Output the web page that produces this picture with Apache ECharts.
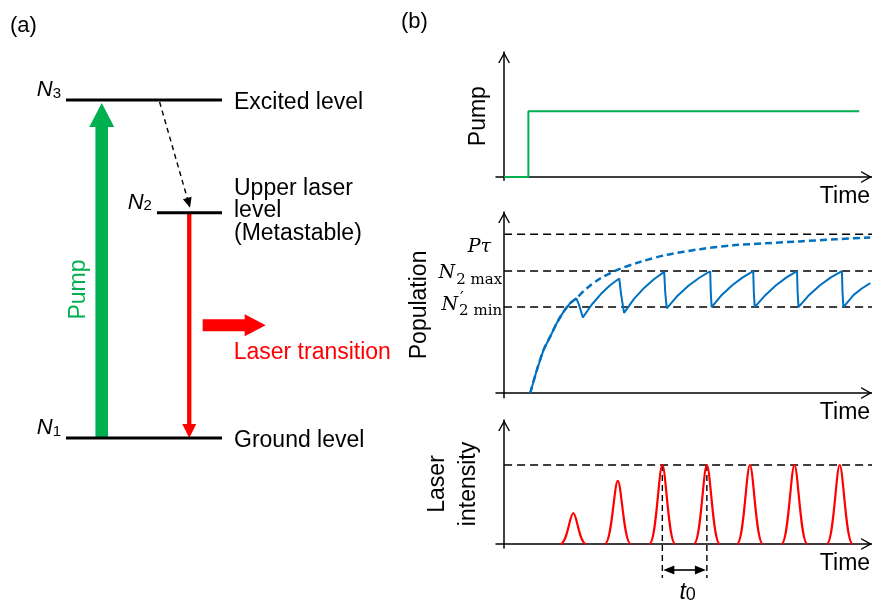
<!DOCTYPE html>
<html>
<head>
<meta charset="utf-8">
<title>Three-level laser: energy levels and relaxation oscillations</title>
<script src="https://cdn.jsdelivr.net/npm/echarts@6.0.0/dist/echarts.min.js"></script>
<style>
  html, body { margin: 0; padding: 0; background: #fff; }
  #chart { width: 872px; height: 604px; }
</style>
</head>
<body>
<div id="chart"></div>
<script>
// ---------- data ----------
// (a) energy levels of the three-level scheme (arbitrary energy units)
const levelNames  = ['Ground level', 'Upper laser\nlevel\n(Metastable)', 'Excited level'];
const levelIndex  = ['1', '2', '3'];
const levelEnergy = [0, 2, 3];

// (b) pump switched on as a step
const pumpTime  = [0, 6.6, 6.6, 96.5];
const pumpLevel = [0, 0, 1, 1];

// upper-level population while lasing (saw-tooth relaxation)
const popTime  = [7.1, 8.9, 10.7, 12.5, 14.3, 16.1, 17.9, 19.6,
                  20.3, 21.4, 23.9, 26.35, 28.8, 31.3,
                  31.8, 32.6, 35.3, 38.05, 40.8, 43.5,
                  43.8, 44.2, 47.15, 50.1, 53.05, 56.0,
                  56.15, 56.4, 59.15, 62.0, 64.85, 67.7,
                  67.85, 68.1, 71.05, 73.9, 76.75, 79.6,
                  79.75, 80.0, 82.9, 85.85, 88.8, 91.8,
                  91.95, 92.2, 95.0, 97.3, 99.5];
const popValue = [0, 0.145, 0.27, 0.354, 0.44, 0.51, 0.565, 0.596,
                  0.56, 0.476, 0.559, 0.625, 0.679, 0.721,
                  0.62, 0.505, 0.593, 0.662, 0.718, 0.763,
                  0.63, 0.533, 0.613, 0.676, 0.726, 0.767,
                  0.64, 0.541, 0.618, 0.679, 0.728, 0.767,
                  0.64, 0.541, 0.618, 0.679, 0.728, 0.767,
                  0.64, 0.541, 0.618, 0.679, 0.728, 0.767,
                  0.64, 0.541, 0.618, 0.66, 0.692];

// population without lasing, approaching P·tau
const trendTime  = [7.1, 8.9, 10.7, 12.5, 14.3, 16.1, 17.9, 19.6, 22.5, 26.1, 30.6,
                    37.0, 44.3, 53.3, 62.2, 71.0, 80.4, 90.0, 99.5];
const trendValue = [0, 0.145, 0.27, 0.354, 0.44, 0.51, 0.565, 0.596, 0.66, 0.721, 0.774,
                    0.826, 0.871, 0.906, 0.93, 0.943, 0.955, 0.968, 0.98];

// reference levels of the population plot; labels as [symbol, prime, subscript]
const popRefValue = [1.0, 0.768, 0.541];
const popRefLabel = [['Pτ', '', ''], ['N', '', '2 max'], ['N', '′', '2 min']];

// laser output pulses
const pulseTime  = [18.8, 30.9, 43.0, 55.1, 66.8, 78.9, 91.2];
const pulsePeak  = [0.39, 0.80, 1.0, 1.0, 1.0, 1.0, 1.0];
const pulseRef   = 1.0;
const periodPair = [2, 3];   // pulses bracketed by the t0 marker

// ---------- styling ----------
const GREEN = '#00B050', BLUE = '#0070C0', RED = '#FF0000';
const SANS  = '"Liberation Sans", Arial, sans-serif';
const SERIF = '"DejaVu Serif", "Liberation Serif", serif';
const zip = (xs, ys) => xs.map((x, i) => [x, ys[i]]);

// horizontal placement inside the level diagram (diagram x units 0..10)
const DIAG = {
  span: [[0, 10], [5.83, 10], [0, 10]],
  pumpX: 2.29,
  decayX: [6.0, 7.95],
  laserX: 7.9,
  emitX: [8.76, 12.8],
  emitY: 1.0
};

// math labels of the population plot: [right edge dx from axis, baseline dy from line]
const POP_LABEL_POS = [[-13, 19], [-2, 9], [-2, 4.5]];
const MATH_BASE = 19, MATH_SUB = 15, MATH_MARK = 17;
const measureCtx = document.createElement('canvas').getContext('2d');
function textWidth(str, font) { measureCtx.font = font; return measureCtx.measureText(str).width; }

// ---------- render helpers ----------
function renderLevel(params, api) {
  const i = params.dataIndex;
  const e = api.value(1);
  const a = api.coord([DIAG.span[i][0], e]);
  const b = api.coord([DIAG.span[i][1], e]);
  return {
    type: 'group',
    children: [
      { type: 'line', shape: { x1: a[0], y1: a[1], x2: b[0], y2: b[1] },
        style: { stroke: '#000', lineWidth: 3 } },
      { type: 'text', x: b[0] + 12, y: b[1] + (i === 1 ? -2 : 2.5),
        style: { text: levelNames[i], fill: '#000', fontFamily: SANS, fontSize: 23,
                 lineHeight: 22.5, align: 'left', verticalAlign: 'middle' } },
      { type: 'text', x: a[0] - 5, y: a[1] - 10,
        style: { text: '{n|N}{s|' + levelIndex[i] + '}', fill: '#000', align: 'right', verticalAlign: 'middle',
                 rich: {
                   n: { fontFamily: SANS, fontStyle: 'italic', fontSize: 22, lineHeight: 22 },
                   s: { fontFamily: SANS, fontSize: 15, lineHeight: 12, verticalAlign: 'bottom' }
                 } } }
    ]
  };
}

function renderPump(params, api) {
  const b = api.coord([DIAG.pumpX, api.value(0)]);
  const t = api.coord([DIAG.pumpX, api.value(1)]);
  const x = b[0], yb = b[1], yt = t[1] + 3;
  const sw = 6.3, hw = 12.5, hl = 24;
  return {
    type: 'group',
    children: [
      { type: 'polygon',
        shape: { points: [[x - sw, yb], [x - sw, yt + hl], [x - hw, yt + hl], [x, yt],
                          [x + hw, yt + hl], [x + sw, yt + hl], [x + sw, yb]] },
        style: { fill: GREEN } },
      { type: 'text', x: x - 23, y: (yb + yt) / 2 + 19, rotation: Math.PI / 2,
        style: { text: 'Pump', fill: GREEN, fontFamily: SANS, fontSize: 23,
                 align: 'center', verticalAlign: 'middle' } }
    ]
  };
}

function arrowHead(tip, from, len, half, color) {
  const dx = tip[0] - from[0], dy = tip[1] - from[1];
  const l = Math.hypot(dx, dy), ux = dx / l, uy = dy / l;
  const bx = tip[0] - ux * len, by = tip[1] - uy * len;
  return { type: 'polygon',
    shape: { points: [[tip[0], tip[1]], [bx - uy * half, by + ux * half], [bx + uy * half, by - ux * half]] },
    style: { fill: color } };
}

function renderDecay(params, api) {
  const s = api.coord([DIAG.decayX[0], api.value(0)]);
  const e = api.coord([DIAG.decayX[1], api.value(1)]);
  const start = [s[0], s[1] + 2], tip = [e[0], e[1] - 5];
  const dx = tip[0] - start[0], dy = tip[1] - start[1], l = Math.hypot(dx, dy);
  const end = [tip[0] - dx / l * 9, tip[1] - dy / l * 9];
  return {
    type: 'group',
    children: [
      { type: 'line', shape: { x1: start[0], y1: start[1], x2: end[0], y2: end[1] },
        style: { stroke: '#000', lineWidth: 1.4, lineDash: [5, 4] } },
      arrowHead(tip, start, 10, 4.5, '#000')
    ]
  };
}

function renderLaser(params, api) {
  const top = api.coord([DIAG.laserX, api.value(0)]);
  const bot = api.coord([DIAG.laserX, api.value(1)]);
  const x = top[0];
  const e0 = api.coord([DIAG.emitX[0], DIAG.emitY]);
  const e1 = api.coord([DIAG.emitX[1], DIAG.emitY]);
  const yc = e0[1], sh = 6, hh = 11, hl = 21;
  return {
    type: 'group',
    children: [
      { type: 'line', shape: { x1: x, y1: top[1] + 1, x2: x, y2: bot[1] - 12 },
        style: { stroke: RED, lineWidth: 4.3 } },
      { type: 'polygon',
        shape: { points: [[x - 7, bot[1] - 14], [x + 7, bot[1] - 14], [x, bot[1]]] },
        style: { fill: RED } },
      { type: 'polygon',
        shape: { points: [[e0[0], yc - sh], [e1[0] - hl, yc - sh], [e1[0] - hl, yc - hh], [e1[0], yc],
                          [e1[0] - hl, yc + hh], [e1[0] - hl, yc + sh], [e0[0], yc + sh]] },
        style: { fill: RED } },
      { type: 'text', x: e0[0] + 31, y: yc + 27,
        style: { text: 'Laser transition', fill: RED, fontFamily: SANS, fontSize: 23,
                 align: 'left', verticalAlign: 'middle' } }
    ]
  };
}

function renderPopRef(params, api) {
  const i = params.dataIndex;
  const v = api.value(1);
  const a = api.coord([0, v]), b = api.coord([100, v]);
  const [base, mark, sub] = popRefLabel[i];
  const pos = POP_LABEL_POS[i];
  const right = a[0] + pos[0], baseline = a[1] + pos[1];
  const ws = sub ? textWidth(sub, MATH_SUB + 'px "DejaVu Serif"') : 0;
  const wb = textWidth(base, 'italic ' + MATH_BASE + 'px "DejaVu Serif"');
  const gap = sub ? 1 : 0;
  const children = [
    { type: 'line', shape: { x1: a[0], y1: a[1], x2: b[0], y2: b[1] },
      style: { stroke: '#000', lineWidth: 1.5, lineDash: [8, 5] } },
    { type: 'text', x: right - ws - gap - wb, y: baseline - 0.35 * MATH_BASE,
      style: { text: base, fill: '#000', fontFamily: SERIF, fontStyle: 'italic', fontSize: MATH_BASE,
               align: 'left', verticalAlign: 'middle' } }
  ];
  if (sub) {
    children.push({ type: 'text', x: right - ws, y: baseline + 5 - 0.35 * MATH_SUB,
      style: { text: sub, fill: '#000', fontFamily: SERIF, fontSize: MATH_SUB,
               align: 'left', verticalAlign: 'middle' } });
  }
  if (mark) {
    children.push({ type: 'text', x: right - ws + 1, y: baseline - 7 - 0.35 * MATH_MARK,
      style: { text: mark, fill: '#000', fontFamily: SERIF, fontSize: MATH_MARK,
               align: 'left', verticalAlign: 'middle' } });
  }
  return { type: 'group', children };
}

function renderPulse(params, api) {
  const c = api.coord([api.value(0), api.value(1)]);
  const base = api.coord([api.value(0), 0])[1];
  const x = c[0], y = c[1], w = 13;
  const d = 'M' + (x - w) + ',' + base +
            ' C' + (x - 6) + ',' + base + ' ' + (x - 3.5) + ',' + y + ' ' + x + ',' + y +
            ' C' + (x + 3.5) + ',' + y + ' ' + (x + 6) + ',' + base + ' ' + (x + w) + ',' + base;
  return { type: 'path', shape: { pathData: d },
           style: { fill: 'none', stroke: RED, lineWidth: 2.2 } };
}

function renderPeriod(params, api) {
  const p1 = api.coord([api.value(0), api.value(1)]);
  const p2 = api.coord([api.value(2), api.value(1)]);
  const y0 = api.coord([api.value(0), 0])[1];
  const yEnd = y0 + 34, yArr = y0 + 26;
  const x1 = p1[0], x2 = p2[0];
  return {
    type: 'group',
    children: [
      { type: 'line', shape: { x1: x1, y1: p1[1], x2: x1, y2: yEnd },
        style: { stroke: '#000', lineWidth: 1.4, lineDash: [6, 4] } },
      { type: 'line', shape: { x1: x2, y1: p2[1], x2: x2, y2: yEnd },
        style: { stroke: '#000', lineWidth: 1.4, lineDash: [6, 4] } },
      { type: 'line', shape: { x1: x1 + 10, y1: yArr, x2: x2 - 10, y2: yArr },
        style: { stroke: '#000', lineWidth: 1.6 } },
      arrowHead([x1 + 1, yArr], [x2, yArr], 11, 4.5, '#000'),
      arrowHead([x2 - 1, yArr], [x1, yArr], 11, 4.5, '#000'),
      { type: 'text', x: (x1 + x2) / 2 + 3, y: y0 + 49,
        style: { text: '{t|t}{s|0}', fill: '#000', align: 'center', verticalAlign: 'middle',
                 rich: {
                   t: { fontFamily: SANS, fontStyle: 'italic', fontSize: 23, lineHeight: 22 },
                   s: { fontFamily: SANS, fontSize: 18, lineHeight: 14, verticalAlign: 'bottom' }
                 } } }
    ]
  };
}

// ---------- axes ----------
const CHEVRON = 'path://M0,11L6,0L12,11L10.5,11L6,2.8L1.5,11Z';
const axisLine = {
  show: true, onZero: true,
  symbol: ['none', CHEVRON], symbolSize: [12, 11], symbolOffset: [0, -5.5],
  lineStyle: { color: '#000', width: 1.5 }
};
const nameStyle = { color: '#000', fontFamily: SANS, fontSize: 23, lineHeight: 23 };
const hidden = { axisTick: { show: false }, axisLabel: { show: false }, splitLine: { show: false } };

function timeAxis(gridIndex) {
  return Object.assign({
    type: 'value', gridIndex, min: -2.2, max: 100, axisLine,
    name: 'Time', nameLocation: 'end', nameGap: -2,
    nameTextStyle: Object.assign({}, nameStyle, { align: 'right', verticalAlign: 'top', padding: [8, 0, 0, 0] })
  }, hidden);
}
function valueAxis(gridIndex, min, max, name, gap, extra) {
  return Object.assign({
    type: 'value', gridIndex, min, max, axisLine,
    name, nameLocation: 'middle', nameRotate: 90, nameGap: gap,
    nameTextStyle: Object.assign({}, nameStyle, extra || {})
  }, hidden);
}

const chart = echarts.init(document.getElementById('chart'), null, { renderer: 'canvas' });
chart.setOption({
  animation: false,
  backgroundColor: '#fff',
  textStyle: { fontFamily: SANS },
  graphic: [
    { type: 'text', x: 10, y: 26, style: { text: '(a)', fill: '#000', fontFamily: SANS, fontSize: 22, verticalAlign: 'middle' } },
    { type: 'text', x: 401, y: 22, style: { text: '(b)', fill: '#000', fontFamily: SANS, fontSize: 22, verticalAlign: 'middle' } }
  ],
  grid: [
    { left: 66,  top: 100, width: 156, height: 338,   outerBoundsMode: 'none' },   // level diagram
    { left: 496, top: 52,  width: 376.1, height: 128.3, outerBoundsMode: 'none' }, // pump
    { left: 496, top: 212, width: 376.1, height: 185.8, outerBoundsMode: 'none' }, // population
    { left: 496, top: 420, width: 376.1, height: 127.95, outerBoundsMode: 'none' } // laser intensity
  ],
  xAxis: [
    { type: 'value', gridIndex: 0, min: 0, max: 10, show: false },
    timeAxis(1), timeAxis(2), timeAxis(3)
  ],
  yAxis: [
    { type: 'value', gridIndex: 0, min: 0, max: 3, show: false },
    valueAxis(1, -0.05, 1.9, 'Pump', 5.5),
    valueAxis(2, -0.03, 1.14, 'Population', 65),
    valueAxis(3, -0.05, 1.57, 'Laser\nintensity', 12, { lineHeight: 31 })
  ],
  series: [
    // (a) level diagram
    { type: 'custom', xAxisIndex: 0, yAxisIndex: 0, clip: false, silent: true, z: 3,
      data: levelEnergy.map((e, i) => [i, e]), renderItem: renderLevel },
    { type: 'custom', xAxisIndex: 0, yAxisIndex: 0, clip: false, silent: true, z: 2,
      data: [[levelEnergy[0], levelEnergy[2]]], renderItem: renderPump },
    { type: 'custom', xAxisIndex: 0, yAxisIndex: 0, clip: false, silent: true, z: 2,
      data: [[levelEnergy[2], levelEnergy[1]]], renderItem: renderDecay },
    { type: 'custom', xAxisIndex: 0, yAxisIndex: 0, clip: false, silent: true, z: 2,
      data: [[levelEnergy[1], levelEnergy[0]]], renderItem: renderLaser },

    // (b) pump
    { type: 'line', xAxisIndex: 1, yAxisIndex: 1, symbol: 'none', silent: true, z: 3,
      data: zip(pumpTime, pumpLevel), lineStyle: { color: GREEN, width: 2 } },

    // (b) population
    { type: 'custom', xAxisIndex: 2, yAxisIndex: 2, clip: false, silent: true, z: 1,
      data: popRefValue.map((v, i) => [i, v]), renderItem: renderPopRef },
    { type: 'line', xAxisIndex: 2, yAxisIndex: 2, symbol: 'none', silent: true, smooth: 0.3, z: 2,
      data: zip(trendTime, trendValue), lineStyle: { color: BLUE, width: 2.5, type: [7, 4] } },
    { type: 'line', xAxisIndex: 2, yAxisIndex: 2, symbol: 'none', silent: true, z: 3,
      data: zip(popTime, popValue), lineStyle: { color: BLUE, width: 2 } },

    // (b) laser intensity
    { type: 'line', xAxisIndex: 3, yAxisIndex: 3, symbol: 'none', silent: true, z: 1,
      data: [[0, pulseRef], [100, pulseRef]], lineStyle: { color: '#000', width: 1.5, type: [8, 5] } },
    { type: 'custom', xAxisIndex: 3, yAxisIndex: 3, clip: false, silent: true, z: 3,
      data: zip(pulseTime, pulsePeak), renderItem: renderPulse },
    { type: 'custom', xAxisIndex: 3, yAxisIndex: 3, clip: false, silent: true, z: 2,
      data: [[pulseTime[periodPair[0]], pulseRef, pulseTime[periodPair[1]]]], renderItem: renderPeriod }
  ]
});
</script>
</body>
</html>
